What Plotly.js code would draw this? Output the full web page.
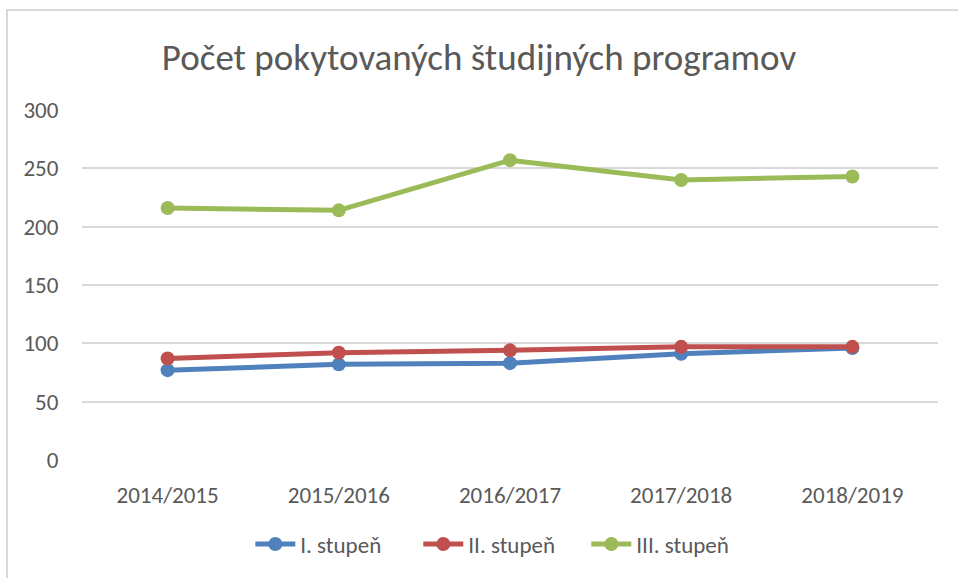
<!DOCTYPE html>
<html>
<head>
<meta charset="utf-8">
<script src="https://cdn.plot.ly/plotly-3.0.1.min.js"></script>
<style>
html,body{margin:0;padding:0;background:#fff;overflow:hidden;}
#frame{position:absolute;left:6px;top:9px;width:1000px;height:700px;border:2px solid #d9d9d9;box-sizing:border-box;}
#chart{position:absolute;left:0;top:0;width:958px;height:578px;}
</style>
</head>
<body>
<div id="frame"></div>
<div id="chart"></div>
<script>
var categories = ['2014/2015', '2015/2016', '2016/2017', '2017/2018', '2018/2019'];
var stupen1 = [77, 82, 83, 91, 96];
var stupen2 = [87, 92, 94, 97, 97];
var stupen3 = [216, 214, 257, 240, 243];
var seriesNames = ['I. stupeň', 'II. stupeň', 'III. stupeň'];
var yTicks = [0, 50, 100, 150, 200, 250, 300];

var colors = ['#4F81BD', '#C0504D', '#9BBB59'];
var seriesVals = [stupen1, stupen2, stupen3];
var FONT = "Calibri, Carlito, 'Open Sans', sans-serif";

var traces = seriesVals.map(function(v, i){
  return {
    x: categories, y: v, name: seriesNames[i], type: 'scatter', mode: 'lines+markers',
    line: {color: colors[i], width: 5},
    marker: {color: colors[i], size: 14},
    hoverinfo: 'skip'
  };
});

var layout = {
  width: 958, height: 578,
  paper_bgcolor: 'rgba(0,0,0,0)', plot_bgcolor: 'rgba(0,0,0,0)',
  margin: {l: 82, r: 20, t: 110, b: 114},
  font: {family: FONT, color: '#595959', size: 23},
  title: {text: 'Počet pokytovaných študijných programov', font: {family: FONT, size: 37, color: '#595959', weight: 300},
          x: 0.5, xanchor: 'center', y: 1 - 57/578, yanchor: 'middle', yref: 'container'},
  xaxis: {type: 'category', range: [-0.5, 4.5], showgrid: false, zeroline: false, showline: false,
          ticks: 'outside', ticklen: 14, tickcolor: 'rgba(0,0,0,0)',
          tickfont: {family: FONT, size: 23, color: '#595959'}, fixedrange: true},
  yaxis: {range: [0, 300], tickvals: yTicks, showgrid: true, gridcolor: '#d9d9d9', gridwidth: 2,
          zeroline: false, showline: false, ticks: 'outside', ticklen: 18, tickcolor: 'rgba(0,0,0,0)',
          tickfont: {family: FONT, size: 23, color: '#595959'}, fixedrange: true},
  showlegend: true,
  legend: {orientation: 'h', x: 0.491, xanchor: 'center', y: -85/354, yanchor: 'middle',
           font: {family: FONT, size: 23, color: '#595959'}, itemwidth: 40, tracegroupgap: 0,
           entrywidth: 113, entrywidthmode: 'pixels'}
};

Plotly.newPlot('chart', traces, layout, {displayModeBar: false, staticPlot: true});
</script>
</body>
</html>
